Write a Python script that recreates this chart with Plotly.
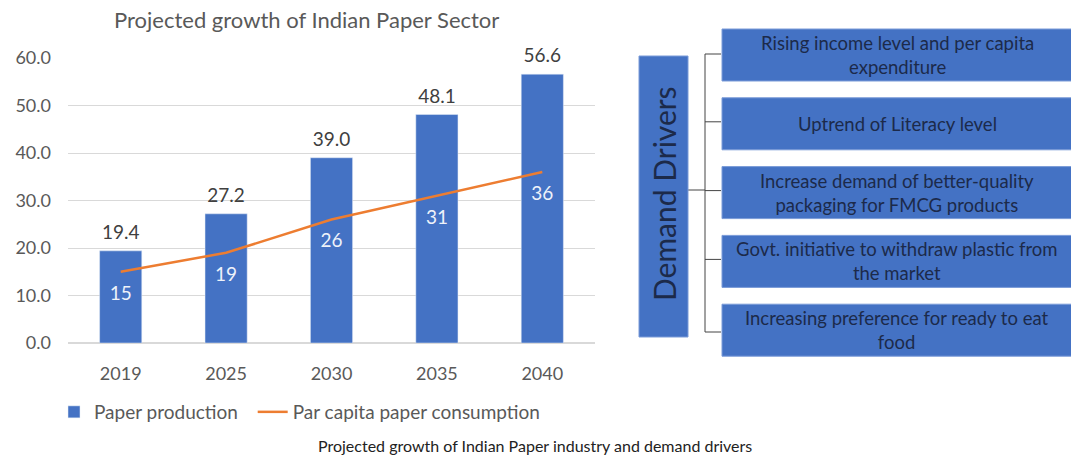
import plotly.graph_objects as go

years = ["2019", "2025", "2030", "2035", "2040"]
paper_production = [19.4, 27.2, 39.0, 48.1, 56.6]
per_capita = [15, 19, 26, 31, 36]
y_ticks = [0, 10, 20, 30, 40, 50, 60]
drivers = [
    "Rising income level and per capita<br>expenditure",
    "Uptrend of Literacy level",
    "Increase demand of better-quality<br>packaging for FMCG products",
    "Govt. initiative to withdraw plastic from<br>the market",
    "Increasing preference for ready to eat<br>food",
]

W, H = 1071, 459
FONT = "Lato"
BLUE = "#4472C4"
ORANGE = "#ED7D31"
GREY = "#595959"
NAVY = "#1c2a4a"


def px(x):
    return x / W


def py(y):
    return 1 - y / H


fig = go.Figure()
fig.add_trace(go.Bar(
    x=years, y=paper_production, name="Paper production\u00a0\u00a0",
    marker=dict(color=BLUE), width=0.4, hoverinfo="x+y",
))
fig.add_trace(go.Scatter(
    x=years, y=per_capita, name="Par capita paper consumption",
    mode="lines+markers+text", line=dict(color=ORANGE, width=2.5),
    marker=dict(size=20, color="rgba(0,0,0,0)"),
    text=[str(v) for v in per_capita], textposition="bottom center",
    textfont=dict(size=19, color="#eef2fa", family=FONT), cliponaxis=False,
))
# value labels above bars
fig.add_trace(go.Scatter(
    x=years, y=paper_production, mode="markers+text", showlegend=False,
    marker=dict(size=10, color="rgba(0,0,0,0)"),
    text=[f"{v:.1f}" for v in paper_production], textposition="top center",
    textfont=dict(size=19, color="#404040", family=FONT), cliponaxis=False,
    hoverinfo="skip",
))

# diagram on the right
shapes = []
annotations = []
box_left, box_right = 722, 1071
box_top0, box_step, box_h = 29, 68.8, 52
bracket_x, tick_end = 705, 721
centers = []
for i, t in enumerate(drivers):
    top = box_top0 + i * box_step
    shapes.append(dict(type="rect", xref="paper", yref="paper",
                       x0=px(box_left), x1=px(box_right + 5), y0=py(top + box_h), y1=py(top),
                       fillcolor=BLUE, line=dict(color="#7a9bd8", width=1), layer="above"))
    annotations.append(dict(xref="paper", yref="paper", x=px(897), y=py(top + box_h / 2),
                            text=t, showarrow=False, xanchor="center", yanchor="middle",
                            font=dict(size=18.5, color=NAVY, family=FONT), align="center"))
    c = top + box_h / 2 - 2 if i != 0 else 54
    if i == len(drivers) - 1:
        c = 332
    centers.append(c)
    shapes.append(dict(type="line", xref="paper", yref="paper",
                       x0=px(bracket_x), x1=px(tick_end), y0=py(c), y1=py(c),
                       line=dict(color="#444444", width=1)))
shapes.append(dict(type="line", xref="paper", yref="paper",
                   x0=px(bracket_x), x1=px(bracket_x), y0=py(centers[0]), y1=py(centers[-1]),
                   line=dict(color="#444444", width=1)))
shapes.append(dict(type="line", xref="paper", yref="paper",
                   x0=px(688), x1=px(bracket_x), y0=py(190), y1=py(190),
                   line=dict(color="#444444", width=1)))
shapes.append(dict(type="rect", xref="paper", yref="paper",
                   x0=px(639), x1=px(688), y0=py(337), y1=py(56),
                   fillcolor=BLUE, line=dict(color="#7a9bd8", width=1), layer="above"))
annotations.append(dict(xref="paper", yref="paper", x=px(664), y=py(194),
                        text="Demand Drivers", textangle=-90, showarrow=False,
                        xanchor="center", yanchor="middle",
                        font=dict(size=30, color=NAVY, family=FONT)))

annotations.append(dict(xref="paper", yref="paper", x=px(306), y=py(19),
                        text="Projected growth of Indian Paper Sector", showarrow=False,
                        xanchor="center", yanchor="middle",
                        font=dict(size=22, color=GREY, family=FONT)))
annotations.append(dict(xref="paper", yref="paper", x=px(535), y=py(445),
                        text="Projected growth of Indian Paper industry and demand drivers",
                        showarrow=False, xanchor="center", yanchor="middle",
                        font=dict(size=16, color="#222222", family=FONT)))

fig.update_layout(
    width=W, height=H, margin=dict(l=0, r=0, t=0, b=0, autoexpand=False),
    paper_bgcolor="white", plot_bgcolor="white",
    font=dict(family=FONT, color=GREY, size=16),
    bargap=0.6,
    xaxis=dict(domain=[px(68), px(595)], showgrid=False, showline=False,
               ticks="", tickfont=dict(size=18, color=GREY), ticklabelstandoff=18),
    yaxis=dict(domain=[py(343), py(58)], range=[0, 60], tickvals=y_ticks,
               ticktext=[f"{v:.1f}" for v in y_ticks],
               showgrid=True, gridcolor="#d9d9d9", gridwidth=1, zeroline=True,
               zerolinecolor="#d9d9d9", showline=False, ticks="",
               tickfont=dict(size=18, color=GREY), ticklabelstandoff=16),
    legend=dict(orientation="h", x=px(54), y=py(412), xanchor="left", yanchor="middle",
                font=dict(size=19, color=GREY, family=FONT), bgcolor="rgba(0,0,0,0)",
                itemwidth=30, traceorder="normal"),
    showlegend=True,
    shapes=shapes, annotations=annotations,
)

fig.write_html("out.html")
